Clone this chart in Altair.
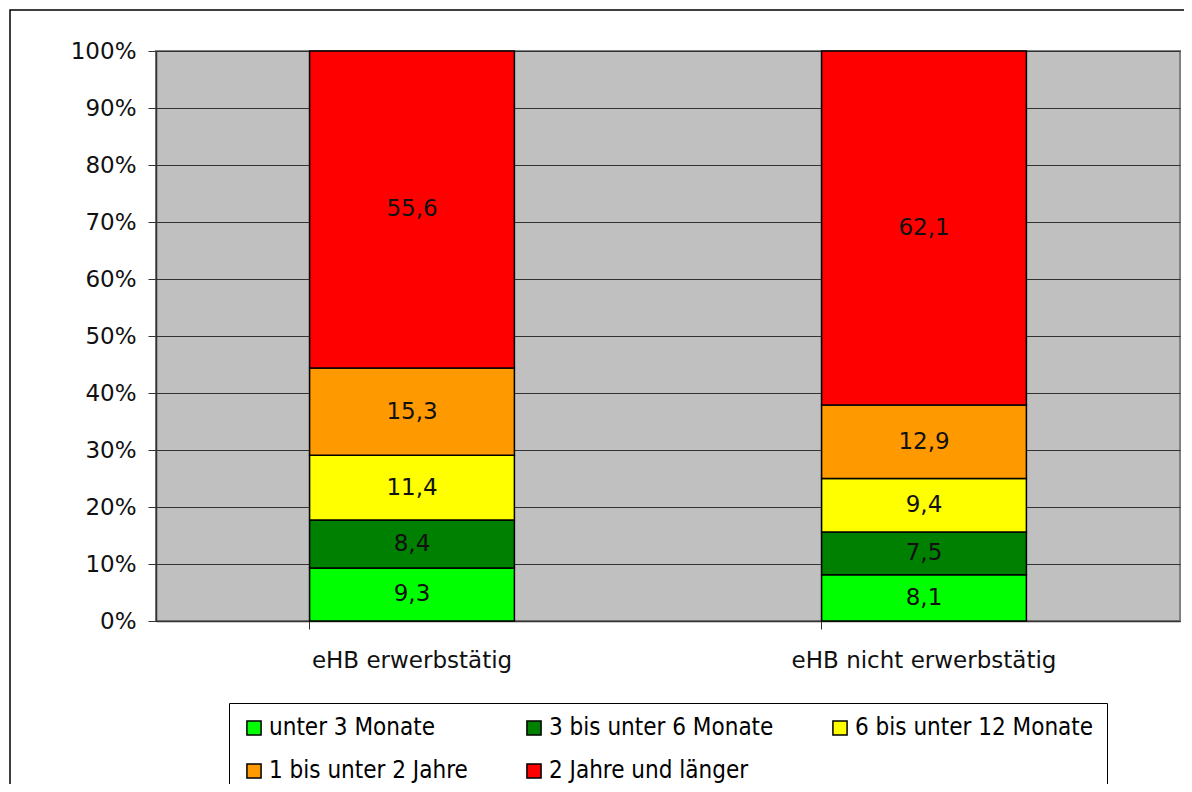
import altair as alt
import pandas as pd

categories = ["eHB erwerbstätig", "eHB nicht erwerbstätig"]
series = ["unter 3 Monate", "3 bis unter 6 Monate", "6 bis unter 12 Monate",
          "1 bis unter 2 Jahre", "2 Jahre und länger"]
colors = ["#00FF00", "#008000", "#FFFF00", "#FF9900", "#FF0000"]
values_erw = [9.3, 8.4, 11.4, 15.3, 55.6]
values_nicht = [8.1, 7.5, 9.4, 12.9, 62.1]
y_ticks = [0, 10, 20, 30, 40, 50, 60, 70, 80, 90, 100]

rows = []
for cat, vals in zip(categories, [values_erw, values_nicht]):
    for i, (s, v) in enumerate(zip(series, vals)):
        rows.append({"cat": cat, "series": s, "order": i, "value": v,
                     "label": f"{v:.1f}".replace(".", ",")})
df = pd.DataFrame(rows)

AXFONT = "DejaVu Sans"
LEGFONT = "Liberation Sans Narrow, DejaVu Sans Condensed, sans-serif"

xscale = alt.Scale(domain=categories, paddingInner=0.6, paddingOuter=0.3)

base = alt.Chart(df)

bars = base.mark_bar(stroke="black", strokeWidth=1.5).encode(
    x=alt.X("cat:N", scale=xscale, sort=categories, title=None,
            axis=alt.Axis(bandPosition=0, labels=False, grid=True, gridColor="#333333",
                          gridWidth=1.2, ticks=True, tickSize=8, tickColor="#333333",
                          domainColor="#333333", domainWidth=1.5, orient="bottom")),
    y=alt.Y("value:Q", stack="zero", scale=alt.Scale(domain=[0, 100], nice=False),
            title=None,
            axis=alt.Axis(values=y_ticks, labelExpr="datum.value + '%'", grid=True,
                          gridColor="#333333", gridWidth=1, tickSize=8, tickColor="#333333",
                          domainColor="#333333", domainWidth=1.5, labelFont=AXFONT,
                          labelFontSize=23, labelColor="#111111", labelPadding=12)),
    color=alt.Color("series:N", scale=alt.Scale(domain=series, range=colors),
                    sort=series, title=None,
                    legend=alt.Legend(orient="none", legendX=73, legendY=652, columns=3,
                                      direction="horizontal",
                                      symbolType="square", symbolSize=200,
                                      symbolStrokeColor="black", symbolStrokeWidth=1.5,
                                      symbolOpacity=1, labelFont=LEGFONT, labelFontSize=24,
                                      labelColor="black", labelLimit=400,
                                      columnPadding=54, rowPadding=19, padding=13,
                                      strokeColor="black", fillColor="white",
                                      labelOffset=3)),
    order=alt.Order("order:Q"),
)

text = base.transform_stack(
    stack="value", groupby=["cat"], as_=["y0", "y1"],
    sort=[alt.SortField("order", order="ascending")]
).transform_calculate(mid="(datum.y0 + datum.y1) / 2").mark_text(
    font=AXFONT, fontSize=23, color="#111111", baseline="middle"
).encode(
    x=alt.X("cat:N", scale=xscale, sort=categories, title=None,
            axis=alt.Axis(orient="bottom", ticks=False, grid=False, domain=False,
                          labelAngle=0, labelFont=AXFONT, labelFontSize=23,
                          labelLimit=400, labelColor="#111111", labelPadding=28)),
    y=alt.Y("mid:Q"),
    text="label:N",
)

border = alt.Chart(pd.DataFrame({"a": [0]})).mark_rect(
    fill=None, stroke="black", strokeWidth=1.5
).encode(x=alt.value(-146), x2=alt.value(1100), y=alt.value(-41), y2=alt.value(800))

chart = alt.layer(border, bars, text).resolve_axis(x="independent").properties(
    width=1024, height=570,
    autosize=alt.AutoSizeParams(type="none"),
    padding={"left": 148, "top": 43, "right": 4, "bottom": 163},
).configure_view(fill="#C0C0C0", stroke="#808080", strokeWidth=2)

chart.save("out.html", embed_options={"renderer": "svg", "actions": False})
